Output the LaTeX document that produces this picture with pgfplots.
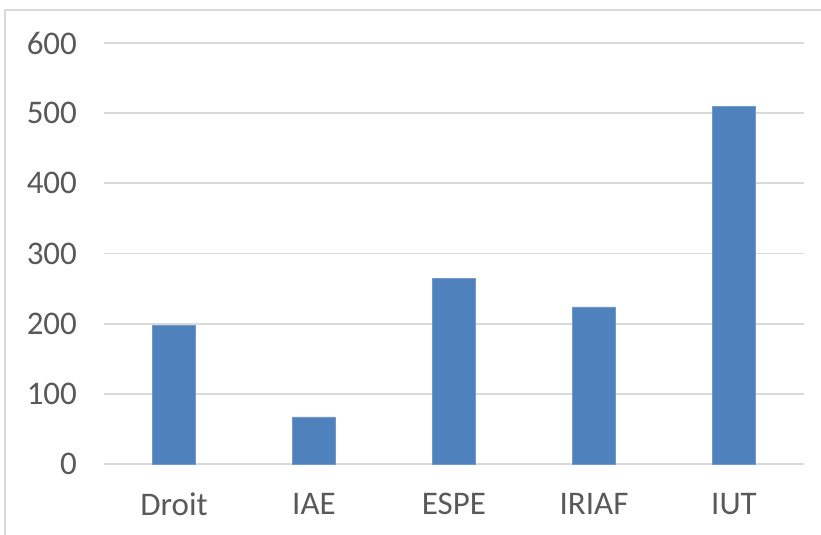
\documentclass[border=0pt]{standalone}
\usepackage{fontspec}
\setmainfont{Carlito}
\usepackage{pgfplots}
\pgfplotsset{compat=1.18}
\definecolor{barblue}{HTML}{4F81BD}
\definecolor{gridgrey}{HTML}{D9D9D9}
\definecolor{labgrey}{HTML}{595959}
\begin{document}
\begin{tikzpicture}
\path[use as bounding box] (0,0) rectangle (410.5pt,267.5pt);
\draw[gridgrey, line width=0.6pt] (2.5pt,0) -- (2.5pt,262.5pt) -- (410.5pt,262.5pt);
\begin{axis}[
  at={(52pt,35.5pt)}, anchor=south west,
  scale only axis, width=350pt, height=210.5pt,
  xmin=-0.5, xmax=4.5, ymin=0, ymax=600,
  axis line style={draw=none},
  axis x line*=bottom,
  ytick={0,100,...,600},
  xtick={0,1,2,3,4},
  xticklabels={Droit,IAE,ESPE,IRIAF,IUT},
  ymajorgrids,
  grid style={gridgrey, line width=0.9pt},
  major tick length=0pt,
  tick style={draw=none},
  /pgf/number format/assume math mode=true,
  ticklabel style={font=\fontsize{16.5}{20}\selectfont, text=labgrey},
  yticklabel style={xshift=-10pt},
  xticklabel style={yshift=-11pt},
  ybar, bar width=21.5pt,
  clip=false,
]
\draw[gridgrey, line width=0.9pt] (axis cs:-0.5,0) -- (axis cs:4.5,0);
\addplot[fill=barblue, draw=barblue!80!white, line width=0.3pt] coordinates {(0,197) (1,67) (2,265) (3,224) (4,510)};
\end{axis}
\end{tikzpicture}
\end{document}
